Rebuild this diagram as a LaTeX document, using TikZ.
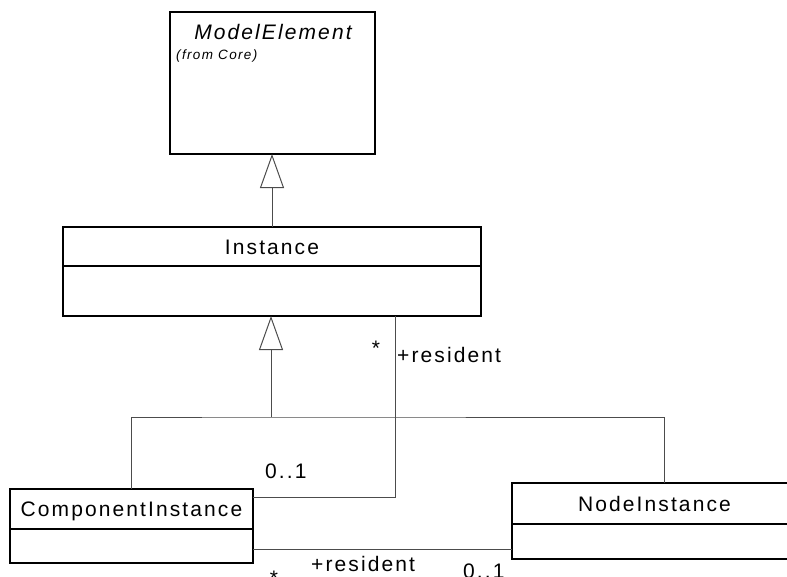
\documentclass[tikz,border=0pt]{standalone}
\usepackage{fontspec}
\setmainfont{Liberation Sans}[LetterSpace=10]
\usetikzlibrary{arrows.meta}
\begin{document}
\begin{tikzpicture}[x=1pt,y=-1pt,
  boxline/.style={draw=black, line width=1.2pt},
  cmp/.style={boxline, rectangle, inner sep=0pt, outer sep=0pt},
  hdr/.style={cmp, anchor=north west, font=\fontsize{21}{24}\selectfont,
    text height=15pt, text depth=0pt},
  link/.style={draw=black!70, line width=1pt},
  gen/.style={link, -{Triangle[open, width=24pt, length=34pt]}},
  lbl/.style={inner sep=0pt, font=\fontsize{21}{24}\selectfont, anchor=base west},
]
\useasboundingbox (0,0) rectangle (787,576);

% ModelElement (abstract, from Core)
\node[cmp, anchor=north west, minimum width=205pt, minimum height=142pt] (me) at (170,12) {};
\node[inner sep=0pt, anchor=base, font=\itshape\fontsize{21}{24}\selectfont] (meName) at (273,39) {ModelElement};
\node[inner sep=0pt, anchor=base west, font=\itshape\fontsize{13.5}{16}\selectfont] (meFrom) at (176,59) {(from Core)};

% Instance
\node[hdr, minimum width=418pt, minimum height=39pt] (inst) at (63,227) {Instance};
\node[cmp, anchor=north, minimum width=418pt, minimum height=50pt] (instB) at (inst.south) {};

% ComponentInstance
\node[hdr, minimum width=243pt, minimum height=40pt] (ci) at (10,489) {ComponentInstance};
\node[cmp, anchor=north, minimum width=243pt, minimum height=34pt] (ciB) at (ci.south) {};

% NodeInstance
\node[hdr, minimum width=285pt, minimum height=41pt] (ni) at (512,483) {NodeInstance};
\node[cmp, anchor=north, minimum width=285pt, minimum height=35pt] (niB) at (ni.south) {};

% generalizations
\draw[gen] (inst.north) -- (inst.north |- me.south);
\coordinate (fork) at (271,417);
\draw[gen] (fork) -- (fork |- instB.south);
\draw[link] (ci.north) |- (fork) -| ([xshift=9.5pt]ni.north);

% associations
\draw[link] ([xshift=123pt]instB.south) |- ([yshift=-8pt]ci.north east);
\coordinate (ciR) at ([yshift=14pt]ciB.south east);
\draw[link] (ciR) -- (ciR -| niB.west);

% association end labels
\node[lbl, anchor=base] (m1) at (376,355) {*};
\node[lbl] (r1) at (397,362) {+resident};
\node[lbl] (z1) at (265,478) {0..1};
\node[lbl, anchor=base] (m2) at (274,585) {*};
\node[lbl] (r2) at (311,571) {+resident};
\node[lbl] (z2) at (463,578) {0..1};
\end{tikzpicture}
\end{document}
